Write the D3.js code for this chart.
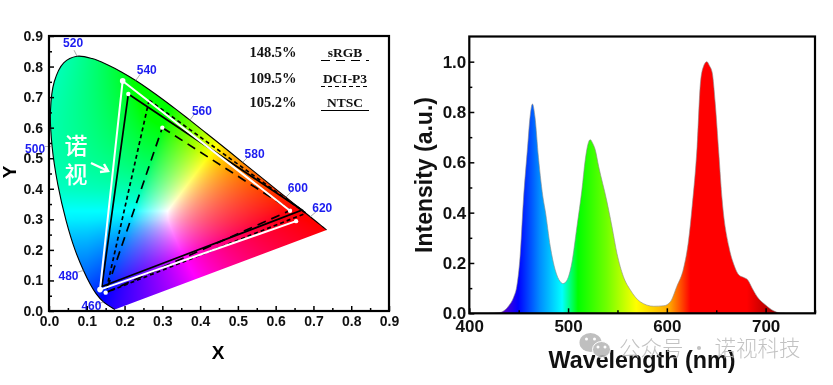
<!DOCTYPE html>
<html>
<head>
<meta charset="utf-8">
<script src="https://cdn.jsdelivr.net/npm/d3@7"></script>
<style>
  body { margin: 0; background: #fff; }
  #chart { position: relative; width: 833px; height: 385px; overflow: hidden; }
  #chart canvas, #chart svg { position: absolute; left: 0; top: 0; }
  text { font-family: "Liberation Sans", Arial, sans-serif; }
</style>
</head>
<body>
<div id="chart"></div>
<script>
// Spectral locus
const locusNm = [380, 460, 470, 475, 480, 485, 490, 495, 500, 505, 510, 515, 520, 525, 530, 535, 540, 545, 550, 555, 560, 565, 570, 575, 580, 585, 590, 595, 600, 605, 610, 620, 630, 640, 650, 700];
const locusX = [0.1741, 0.144, 0.1241, 0.1096, 0.0913, 0.0687, 0.0454, 0.0235, 0.0082, 0.0039, 0.0139, 0.0389, 0.0743, 0.1142, 0.1547, 0.1929, 0.2296, 0.2658, 0.3016, 0.3373, 0.3731, 0.4087, 0.4441, 0.4788, 0.5125, 0.5448, 0.5752, 0.6029, 0.627, 0.6482, 0.6658, 0.6915, 0.7079, 0.719, 0.726, 0.7347];
const locusY = [0.005, 0.0297, 0.0578, 0.0868, 0.1327, 0.2007, 0.295, 0.4127, 0.5384, 0.6548, 0.7502, 0.812, 0.8338, 0.8262, 0.8059, 0.7816, 0.7543, 0.7243, 0.6923, 0.6589, 0.6245, 0.5896, 0.5547, 0.5202, 0.4866, 0.4544, 0.4242, 0.3965, 0.3725, 0.3514, 0.334, 0.3083, 0.292, 0.2809, 0.274, 0.2653];

// Gamut triangles (green, red, blue)
const ntscX = [0.21, 0.67, 0.14];
const ntscY = [0.71, 0.33, 0.08];
const dciX = [0.265, 0.68, 0.15];
const dciY = [0.69, 0.32, 0.06];
const srgbX = [0.3, 0.64, 0.15];
const srgbY = [0.6, 0.33, 0.06];
// measured gamut, drawn white: green to first red, second red to blue to green
const whiteX = [0.195, 0.638, 0.654, 0.135];
const whiteY = [0.753, 0.328, 0.294, 0.07];

const nmLabels = [520, 540, 560, 580, 600, 620, 500, 480, 460];
const coverage = ["148.5%", "109.5%", "105.2%"];
const standards = ["sRGB", "DCI-P3", "NTSC"];

// Emission spectrum
const wavelengths = [420, 430, 435, 440, 445, 448, 451.4, 454.8, 459, 461.5, 463.9, 466.5, 470, 475, 476.8, 482, 487, 492, 495, 498.7, 503.8, 509, 514, 517.4, 520, 522.4, 525, 527.5, 531, 539, 544.4, 549.5, 556, 563, 573, 586.7, 597, 603.6, 610, 617, 622, 625.6, 630.6, 634, 637, 640.5, 643, 646, 649, 652.6, 656, 662.8, 668, 673, 678, 682, 686.4, 691.5, 700, 708, 715, 720];
const intensity = [0, 0.002, 0.01, 0.03, 0.065, 0.106, 0.225, 0.45, 0.66, 0.78, 0.832, 0.78, 0.62, 0.45, 0.41, 0.265, 0.172, 0.126, 0.118, 0.13, 0.2, 0.345, 0.49, 0.61, 0.67, 0.69, 0.675, 0.65, 0.583, 0.45, 0.345, 0.238, 0.146, 0.093, 0.046, 0.028, 0.03, 0.046, 0.106, 0.18, 0.29, 0.424, 0.66, 0.915, 0.98, 1.0, 0.985, 0.955, 0.835, 0.637, 0.45, 0.265, 0.192, 0.152, 0.142, 0.132, 0.1, 0.066, 0.033, 0.01, 0.001, 0];
const gradientNm = [431, 449.5, 471.8, 494, 510, 539, 569, 603, 624, 681, 700, 711];
const gradientColors = ["#6a00c0", "#0000ff", "#0090ff", "#00ffff", "#00ff00", "#70ff00", "#ffff00", "#ffa500", "#ff0000", "#ff0000", "#c00000", "#a00000"];

const chart = d3.select("#chart");
const canvas = chart.append("canvas").attr("width", 833).attr("height", 385);
const svg = chart.append("svg").attr("width", 833).attr("height", 385);

// ---------- left plot ----------
const cx = d3.scaleLinear().domain([0, 0.9]).range([49, 389]);
const cy = d3.scaleLinear().domain([0, 0.9]).range([311, 36]);
const locus = locusX.map((d, i) => [d, locusY[i]]);

// chromaticity colour of one x,y pair
function xyColor(x, y) {
  const X = x / y;
  const Z = (1 - x - y) / y;
  // extra blue in the upper left, the reference runs teal there
  const teal = 13 * Math.max(0.25 - x, 0) * Math.max(y - 0.4, 0);
  // more magenta along the purple line
  const purple = 1 + 3 * Math.max(0.3 - y, 0);
  const rgb = [
    3.2406 * X - 1.5372 - 0.4986 * Z,
    -0.9689 * X + 1.8758 + 0.0415 * Z,
    (0.0557 * X - 0.204 + 1.057 * Z + teal) * purple,
  ].map((v) => Math.max(v, 0));
  const m = Math.max(...rgb);
  // green stays brighter on the blue side of the diagram
  const gExp = 0.75 - 0.3 * Math.min(Math.max((0.25 - x) / 0.15, 0), 1);
  return [
    255 * Math.pow(rgb[0] / m, 0.75),
    255 * Math.pow(rgb[1] / m, gExp),
    255 * Math.pow(rgb[2] / m, 0.75),
  ];
}

const ctx = canvas.node().getContext("2d");
const offscreen = document.createElement("canvas");
offscreen.width = 833;
offscreen.height = 385;
const offCtx = offscreen.getContext("2d");
const img = offCtx.createImageData(833, 385);
for (let py = 36; py < 312; py++) {
  for (let px = 49; px < 389; px++) {
    const c = xyColor(cx.invert(px), Math.max(cy.invert(py), 0.001));
    const k = (py * 833 + px) * 4;
    img.data[k] = c[0];
    img.data[k + 1] = c[1];
    img.data[k + 2] = c[2];
    img.data[k + 3] = 255;
  }
}
offCtx.putImageData(img, 0, 0);

const locusLine = d3.line().x((d) => cx(d[0])).y((d) => cy(d[1])).curve(d3.curveCatmullRom);
ctx.save();
ctx.beginPath();
locusLine.context(ctx)(locus);
ctx.closePath();
ctx.clip();
ctx.drawImage(offscreen, 0, 0);
ctx.restore();
locusLine.context(null);

const left = svg.append("g");

// outline, only the curved part
left.append("path")
  .attr("d", locusLine(locus))
  .attr("fill", "none")
  .attr("stroke", "#000")
  .attr("stroke-width", 1.1);

const tri = d3.line().x((d) => cx(d[0])).y((d) => cy(d[1]));
function triangle(xs, ys) {
  const pts = xs.map((d, i) => [d, ys[i]]);
  return tri(pts) + "Z";
}

left.append("path").attr("d", triangle(srgbX, srgbY))
  .attr("fill", "none").attr("stroke", "#000").attr("stroke-width", 1.7).attr("stroke-dasharray", "9 6");
left.append("path").attr("d", triangle(dciX, dciY))
  .attr("fill", "none").attr("stroke", "#000").attr("stroke-width", 1.7).attr("stroke-dasharray", "4 3");
left.append("path").attr("d", triangle(ntscX, ntscY))
  .attr("fill", "none").attr("stroke", "#000").attr("stroke-width", 1.7);

const whitePts = whiteX.map((d, i) => [d, whiteY[i]]);
left.append("path")
  .attr("d", tri([whitePts[0], whitePts[1]]) + tri([whitePts[2], whitePts[3], whitePts[0]]))
  .attr("fill", "none").attr("stroke", "#fff").attr("stroke-width", 2);

// white vertex dots
const dots = whitePts.concat([[srgbX[0], srgbY[0]], [ntscX[0], ntscY[0]], [srgbX[2], srgbY[2]]]);
left.selectAll(".vertex").data(dots).join("circle")
  .attr("class", "vertex")
  .attr("cx", (d) => cx(d[0]))
  .attr("cy", (d) => cy(d[1]))
  .attr("r", (d, i) => (i == 0 || i == 3 ? 2.8 : 2.2))
  .attr("fill", "#fff");

// wavelength labels with grey leaders, offsets are from the locus point
const leaderEnd = { 520: [-3, -6], 540: [5, -7], 560: [5, -7], 580: [7, -7], 600: [7, -7], 620: [7, -6], 500: [-7, 0], 480: [-7, 2], 460: [-8, 3] };
const labelOffset = { 520: [-4, -13], 540: [11, -11], 560: [12, -9], 580: [12, -8], 600: [12, -9], 620: [12, -9], 500: [-17, 3], 480: [-15, 6], 460: [-12, 4] };
nmLabels.forEach((nm) => {
  const i = locusNm.indexOf(nm);
  const px = cx(locusX[i]);
  const py = cy(locusY[i]);
  left.append("line")
    .attr("x1", px).attr("y1", py)
    .attr("x2", px + leaderEnd[nm][0]).attr("y2", py + leaderEnd[nm][1])
    .attr("stroke", "#888").attr("stroke-width", 0.7);
  left.append("text")
    .attr("x", px + labelOffset[nm][0])
    .attr("y", py + labelOffset[nm][1])
    .attr("text-anchor", "middle")
    .attr("dominant-baseline", "central")
    .attr("font-size", 12)
    .attr("font-weight", "bold")
    .attr("fill", "#1c1cf0")
    .text(nm);
});

// 诺视 mark
["诺", "视"].forEach((t, i) => {
  left.append("text")
    .attr("x", 76).attr("y", 144 + i * 29)
    .attr("text-anchor", "middle")
    .attr("dominant-baseline", "central")
    .style("font-family", "'Noto Sans CJK SC'")
    .attr("font-size", 23)
    .attr("font-weight", 500)
    .attr("fill", "#fff")
    .text(t);
});
left.append("path")
  .attr("d", "M91,163L108,171M100,172L108,171L104,164")
  .attr("fill", "none").attr("stroke", "#fff").attr("stroke-width", 2.4);

// legend
const legendDash = ["9 6", "4 3", null];
standards.forEach((s, i) => {
  const yy = [52, 78, 102][i];
  left.append("text").attr("x", 273).attr("y", yy).attr("text-anchor", "middle")
    .attr("dominant-baseline", "central").style("font-family", "'Liberation Serif'")
    .attr("font-size", 14.5).attr("font-weight", "bold").attr("fill", "#111").text(coverage[i]);
  left.append("text").attr("x", 345).attr("y", yy).attr("text-anchor", "middle")
    .attr("dominant-baseline", "central").style("font-family", "'Liberation Serif'")
    .attr("font-size", 13.5).attr("font-weight", "bold").attr("fill", "#111").text(s);
  left.append("line").attr("x1", 321).attr("x2", 369).attr("y1", yy + 8.5).attr("y2", yy + 8.5)
    .attr("stroke", "#000").attr("stroke-width", 1).attr("stroke-dasharray", legendDash[i]);
});

// axes for both plots share this helper
function drawAxes(g, xScale, yScale, xMajor, xMinor, yMajor, yMinor, xFmt, yFmt, fontSize, padX, padY) {
  const [x0, x1] = xScale.range();
  const [y0, y1] = yScale.range();
  g.append("g").attr("transform", `translate(0,${y0})`)
    .call(d3.axisBottom(xScale).tickValues(xMinor).tickSize(-3).tickFormat(""));
  g.append("g").attr("transform", `translate(${x0},0)`)
    .call(d3.axisLeft(yScale).tickValues(yMinor).tickSize(-3).tickFormat(""));
  const ax = g.append("g").attr("transform", `translate(0,${y0})`)
    .call(d3.axisBottom(xScale).tickValues(xMajor).tickSize(-5).tickPadding(padX).tickFormat(xFmt));
  const ay = g.append("g").attr("transform", `translate(${x0},0)`)
    .call(d3.axisLeft(yScale).tickValues(yMajor).tickSize(-5).tickPadding(padY).tickFormat(yFmt));
  [ax, ay].forEach((a) => {
    a.selectAll("text").attr("font-size", fontSize).attr("font-weight", "bold").attr("fill", "#111")
      .style("font-family", "'Liberation Sans'");
  });
  g.selectAll(".domain").remove();
  g.selectAll(".tick line").attr("stroke", "#000").attr("stroke-width", 1.5);
  g.append("rect").attr("x", x0).attr("y", y1).attr("width", x1 - x0).attr("height", y0 - y1)
    .attr("fill", "none").attr("stroke", "#000").attr("stroke-width", 2.2);
}

const tenths = d3.range(0, 10).map((d) => d / 10);
const twentieths = d3.range(0, 9).map((d) => d / 10 + 0.05);
drawAxes(left, cx, cy, tenths, twentieths, tenths, twentieths, d3.format(".1f"), d3.format(".1f"), 14, 5, 6);

left.append("text").attr("x", 218).attr("y", 352).attr("text-anchor", "middle")
  .attr("dominant-baseline", "central").attr("font-size", 19).attr("font-weight", "bold").text("X");
left.append("text").attr("transform", "translate(9,172) rotate(-90)").attr("text-anchor", "middle")
  .attr("dominant-baseline", "central").attr("font-size", 19).attr("font-weight", "bold").text("Y");

// ---------- right plot ----------
const wx = d3.scaleLinear().domain([400, 750]).range([469.3, 815]);
const wy = d3.scaleLinear().domain([0, 1.1]).range([313.3, 36.5]);
const right = svg.append("g");

const defs = svg.append("defs");
const grad = defs.append("linearGradient").attr("id", "spectrum")
  .attr("gradientUnits", "userSpaceOnUse")
  .attr("x1", wx(400)).attr("x2", wx(750)).attr("y1", 0).attr("y2", 0);
gradientNm.forEach((nm, i) => {
  grad.append("stop").attr("offset", (nm - 400) / 350).attr("stop-color", gradientColors[i]);
});

const spectrum = wavelengths.map((d, i) => [d, intensity[i]]);
right.append("path")
  .attr("d", d3.area().x((d) => wx(d[0])).y0(wy(0)).y1((d) => wy(d[1])).curve(d3.curveMonotoneX)(spectrum))
  .attr("fill", "url(#spectrum)");
right.append("path")
  .attr("d", d3.line().x((d) => wx(d[0])).y((d) => wy(d[1])).curve(d3.curveMonotoneX)(spectrum))
  .attr("fill", "none").attr("stroke", "#888").attr("stroke-width", 0.6);

drawAxes(right, wx, wy, [400, 500, 600, 700], [450, 550, 650, 750],
  [0, 0.2, 0.4, 0.6, 0.8, 1.0], [0.1, 0.3, 0.5, 0.7, 0.9],
  d3.format("d"), d3.format(".1f"), 17, 7, 3);

right.append("text").attr("transform", "translate(424,175) rotate(-90)").attr("text-anchor", "middle")
  .attr("dominant-baseline", "central").attr("font-size", 23).attr("font-weight", "bold").attr("fill", "#111")
  .text("Intensity (a.u.)");
right.append("text").attr("x", 642).attr("y", 360).attr("text-anchor", "middle")
  .attr("dominant-baseline", "central").attr("font-size", 23.3).attr("font-weight", "bold").attr("fill", "#111")
  .text("Wavelength (nm)");

// ---------- watermark ----------
const mark = svg.append("g").attr("opacity", 0.85);
mark.append("ellipse").attr("cx", 590.5).attr("cy", 342.5).attr("rx", 11).attr("ry", 9.5).attr("fill", "#b4b4b4");
mark.append("ellipse").attr("cx", 601.5).attr("cy", 349.5).attr("rx", 9).attr("ry", 8).attr("fill", "#b4b4b4").attr("stroke", "#fff").attr("stroke-width", 1);
[[586.5, 339], [594.5, 339], [598, 347], [605, 347]].forEach((p) => {
  mark.append("circle").attr("cx", p[0]).attr("cy", p[1]).attr("r", 1.5).attr("fill", "#fff");
});
mark.append("text").attr("x", 619).attr("y", 346).attr("dominant-baseline", "central")
  .style("font-family", "'Noto Sans CJK SC'").attr("font-size", 21.5).attr("font-weight", 300).attr("fill", "#b8b8b8")
  .text("公众号 · 诺视科技");
</script>
</body>
</html>
